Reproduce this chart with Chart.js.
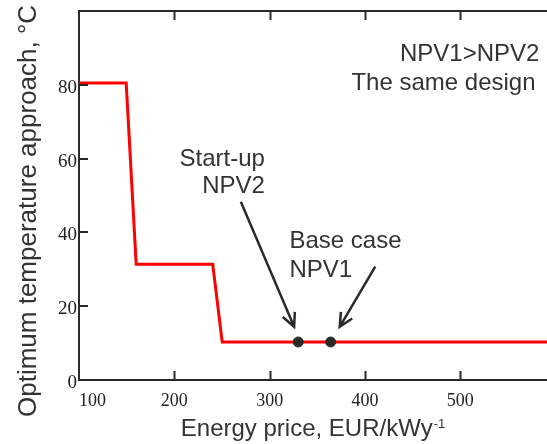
<!DOCTYPE html>
<html>
<head>
<meta charset="utf-8">
<script src="https://cdn.jsdelivr.net/npm/chart.js@4/dist/chart.umd.min.js"></script>
<style>
  body { margin: 0; background: #fff; }
  #wrap { width: 547px; height: 444px; }
</style>
</head>
<body>
<div id="wrap"><canvas id="approachChart" width="547" height="444"></canvas></div>
<script>
// step curve of the optimum approach vs energy price
const priceSteps = [100, 149.5, 160, 240.3, 250.2, 591];
const approachSteps = [80.5, 80.5, 31.4, 31.4, 10.3, 10.3];

// the two marked cases (start-up NPV2, base case NPV1)
const casePrices = [330, 364];
const caseApproach = [10.3, 10.3];

// tick labels
const xTicks = [100, 200, 300, 400, 500];
const yTicks = [0, 20, 40, 60, 80];
const xMax = 591;
const yMax = 100;

// annotation texts, anchored in data units
const notes = [
  { text: "NPV1>NPV2", x: 583, y: 86.5, align: "right" },
  { text: "The same design", x: 579, y: 78.5, align: "right" },
  { text: "Start-up", x: 295, y: 58, align: "right" },
  { text: "NPV2", x: 295, y: 50.7, align: "right" },
  { text: "Base case", x: 320.8, y: 35.8, align: "left" },
  { text: "NPV1", x: 320.8, y: 28, align: "left" }
];
// arrows: from -> to, in data units
const arrows = [
  { x0: 269.8, y0: 48.3, x1: 325.7, y1: 14.4 },
  { x0: 410.8, y0: 30.7, x1: 373.5, y1: 14.4 }
];

const ink = "#2a2a2a";

const extras = {
  id: "extras",
  afterDraw(chart) {
    const c = chart.ctx;
    const xs = chart.scales.x, ys = chart.scales.y;
    const area = chart.chartArea;
    c.save();
    // inward tick marks
    c.strokeStyle = ink;
    c.lineWidth = 2;
    c.beginPath();
    xTicks.slice(1).forEach(v => {
      const px = Math.round(xs.getPixelForValue(v)) + 0.5;
      c.moveTo(px, area.bottom); c.lineTo(px, area.bottom - 9);
      c.moveTo(px, area.top); c.lineTo(px, area.top + 9);
    });
    yTicks.slice(1).forEach(v => {
      const py = Math.round(ys.getPixelForValue(v));
      c.moveTo(area.left, py); c.lineTo(area.left + 9, py);
    });
    c.stroke();

    // arrows
    c.lineWidth = 2.5;
    arrows.forEach(a => {
      const x0 = xs.getPixelForValue(a.x0), y0 = ys.getPixelForValue(a.y0);
      const x1 = xs.getPixelForValue(a.x1), y1 = ys.getPixelForValue(a.y1);
      const ang = Math.atan2(y1 - y0, x1 - x0);
      c.beginPath();
      c.moveTo(x0, y0); c.lineTo(x1, y1);
      c.moveTo(x1 - 15 * Math.cos(ang - 0.45), y1 - 15 * Math.sin(ang - 0.45));
      c.lineTo(x1, y1);
      c.lineTo(x1 - 15 * Math.cos(ang + 0.45), y1 - 15 * Math.sin(ang + 0.45));
      c.stroke();
    });

    // annotation text
    c.fillStyle = "#333";
    c.font = "24px 'Liberation Sans', Arial, sans-serif";
    c.textBaseline = "alphabetic";
    notes.forEach(n => {
      c.textAlign = n.align;
      c.fillText(n.text, xs.getPixelForValue(n.x), ys.getPixelForValue(n.y));
    });

    // x title with superscript
    const main = "Energy price, EUR/kWy";
    const sup = "-1";
    c.font = "24px 'Liberation Sans', Arial, sans-serif";
    const wMain = c.measureText(main).width;
    c.font = "13px 'Liberation Sans', Arial, sans-serif";
    const wSup = c.measureText(sup).width;
    const start = (area.left + area.right) / 2 - (wMain + wSup + 1) / 2;
    c.textAlign = "left";
    c.font = "24px 'Liberation Sans', Arial, sans-serif";
    c.fillText(main, start, 436);
    c.font = "13px 'Liberation Sans', Arial, sans-serif";
    c.fillText(sup, start + wMain + 1, 428);

    // y title
    c.translate(35.5, 417);
    c.rotate(-Math.PI / 2);
    c.font = "26px 'Liberation Sans', Arial, sans-serif";
    c.fillText("Optimum temperature approach, \u00B0C", 0, 0);
    c.restore();
  }
};

const ctx = document.getElementById("approachChart").getContext("2d");
new Chart(ctx, {
  type: "scatter",
  data: {
    datasets: [
      {
        label: "Cases",
        data: casePrices.map((p, i) => ({ x: p, y: caseApproach[i] })),
        backgroundColor: ink,
        borderColor: ink,
        pointRadius: 5,
        showLine: false,
        order: 0
      },
      {
        label: "Optimum approach",
        data: priceSteps.map((p, i) => ({ x: p, y: approachSteps[i] })),
        borderColor: "#ff0000",
        borderWidth: 3,
        pointRadius: 0,
        showLine: true,
        tension: 0,
        order: 1
      }
    ]
  },
  options: {
    responsive: false,
    animation: false,
    // the plot runs off the right edge of the figure
    layout: { autoPadding: false, padding: { top: 11, left: 0, right: 0, bottom: 0 } },
    plugins: {
      legend: { display: false },
      tooltip: { enabled: false }
    },
    scales: {
      x: {
        type: "linear",
        position: "bottom",
        min: 100,
        max: xMax,
        afterBuildTicks: s => { s.ticks = xTicks.concat([xMax]).map(v => ({ value: v })); },
        afterFit: s => { s.height = 64; s.paddingRight = 0; s.paddingLeft = 0; },
        grid: { display: false, drawTicks: false },
        border: { display: true, color: ink, width: 2 },
        ticks: {
          align: "inner",
          maxRotation: 0,
          autoSkip: false,
          padding: 10,
          color: "#222",
          font: { family: "'Liberation Serif', 'Times New Roman', serif", size: 18 },
          callback: v => (xTicks.includes(v) ? String(v) : "")
        }
      },
      xTop: {
        type: "linear",
        position: "top",
        min: 100,
        max: xMax,
        afterFit: s => { s.height = 0; s.paddingRight = 0; s.paddingLeft = 0; },
        grid: { display: false, drawTicks: false },
        border: { display: true, color: ink, width: 2 },
        ticks: { display: false }
      },
      y: {
        type: "linear",
        min: 0,
        max: yMax,
        afterBuildTicks: s => { s.ticks = yTicks.map(v => ({ value: v })); },
        afterFit: s => { s.width = 79; s.paddingTop = 0; s.paddingBottom = 0; },
        grid: { display: false, drawTicks: false },
        border: { display: true, color: ink, width: 2 },
        ticks: {
          padding: 2,
          labelOffset: 3,
          color: "#222",
          font: { family: "'Liberation Serif', 'Times New Roman', serif", size: 19 }
        }
      }
    }
  },
  plugins: [extras]
});
</script>
</body>
</html>
